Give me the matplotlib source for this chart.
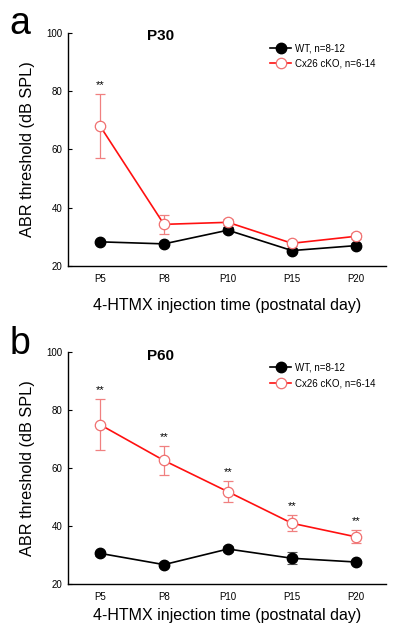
import matplotlib.pyplot as plt

plt.rcParams['font.family'] = ['Liberation Sans', 'DejaVu Sans']

days = ['P5', 'P8', 'P10', 'P15', 'P20']

# P30
wt_p30 = [28.3, 27.6, 32.3, 25.3, 27.0]
wt_p30_err = [0.8, 0.8, 1.0, 0.8, 0.8]
ko_p30 = [68.1, 34.3, 35.0, 27.8, 30.2]
ko_p30_err = [11.0, 3.2, 1.0, 0.8, 1.0]
stars_p30 = [0]

# P60
wt_p60 = [30.5, 26.6, 32.0, 28.8, 27.5]
wt_p60_err = [0.8, 0.8, 1.0, 2.0, 0.8]
ko_p60 = [75.0, 62.6, 51.8, 40.9, 36.2]
ko_p60_err = [8.7, 5.0, 3.7, 2.8, 2.2]
stars_p60 = [0, 1, 2, 3, 4]

fig = plt.figure(figsize=(4, 6.43), dpi=100)
ax_a = fig.add_axes([0.17, 0.5863, 0.795, 0.3624])
ax_b = fig.add_axes([0.17, 0.0922, 0.795, 0.3599])

panels = [
    (ax_a, 'a', 'P30', wt_p30, wt_p30_err, ko_p30, ko_p30_err, stars_p30, 10),
    (ax_b, 'b', 'P60', wt_p60, wt_p60_err, ko_p60, ko_p60_err, stars_p60, 4),
]

x = list(range(len(days)))
for ax, letter, title, wt, wt_err, ko, ko_err, stars, xpad in panels:
    wt_c = ax.errorbar(x, wt, yerr=wt_err, color='black', ecolor='#555555', elinewidth=0.8,
                       capsize=3.5, capthick=0.8, lw=1.2, marker='o', ms=7.5,
                       mfc='black', mec='black', zorder=2)
    ko_c = ax.errorbar(x, ko, yerr=ko_err, color='#ff1010', ecolor='#f08080', elinewidth=0.9,
                       capsize=3.5, capthick=0.9, lw=1.2, marker='o', ms=7.5,
                       mfc='white', mec='#f07070', mew=0.9, zorder=3)
    for i in stars:
        ax.annotate('**', (x[i], ko[i] + ko_err[i]), xytext=(0, 4.5),
                    textcoords='offset points', ha='center', va='baseline', fontsize=8)

    ax.set_xlim(-0.5, 4.47)
    ax.set_ylim(20, 100)
    ax.set_xticks(x)
    ax.set_xticklabels(days)
    ax.set_yticks([20, 40, 60, 80, 100])
    ax.tick_params(axis='y', direction='in', length=3, width=0.8, labelsize=7, pad=4)
    ax.tick_params(axis='x', length=0, labelsize=7, pad=6)
    ax.spines['top'].set_visible(False)
    ax.spines['right'].set_visible(False)
    ax.spines['left'].set_linewidth(1.0)
    ax.spines['bottom'].set_linewidth(1.0)

    ax.set_ylabel('ABR threshold (dB SPL)', fontsize=11.7, labelpad=8)
    ax.set_xlabel('4-HTMX injection time (postnatal day)', fontsize=11.5, labelpad=xpad)
    ax.text(0.29, 0.985, title, transform=ax.transAxes, ha='center', va='center',
            fontsize=11, fontweight='bold')
    ax.text(-0.185, 1.037, letter, transform=ax.transAxes, ha='left', va='center', fontsize=27)

    ax.legend([wt_c.lines[0], ko_c.lines[0]], ['WT, n=8-12', 'Cx26 cKO, n=6-14'],
              loc='upper left', bbox_to_anchor=(0.635, 0.955), frameon=False, fontsize=7,
              handlelength=2.2, handletextpad=0.4, labelspacing=0.55, borderaxespad=0,
              borderpad=0)

fig.savefig('out.png', dpi=100)
